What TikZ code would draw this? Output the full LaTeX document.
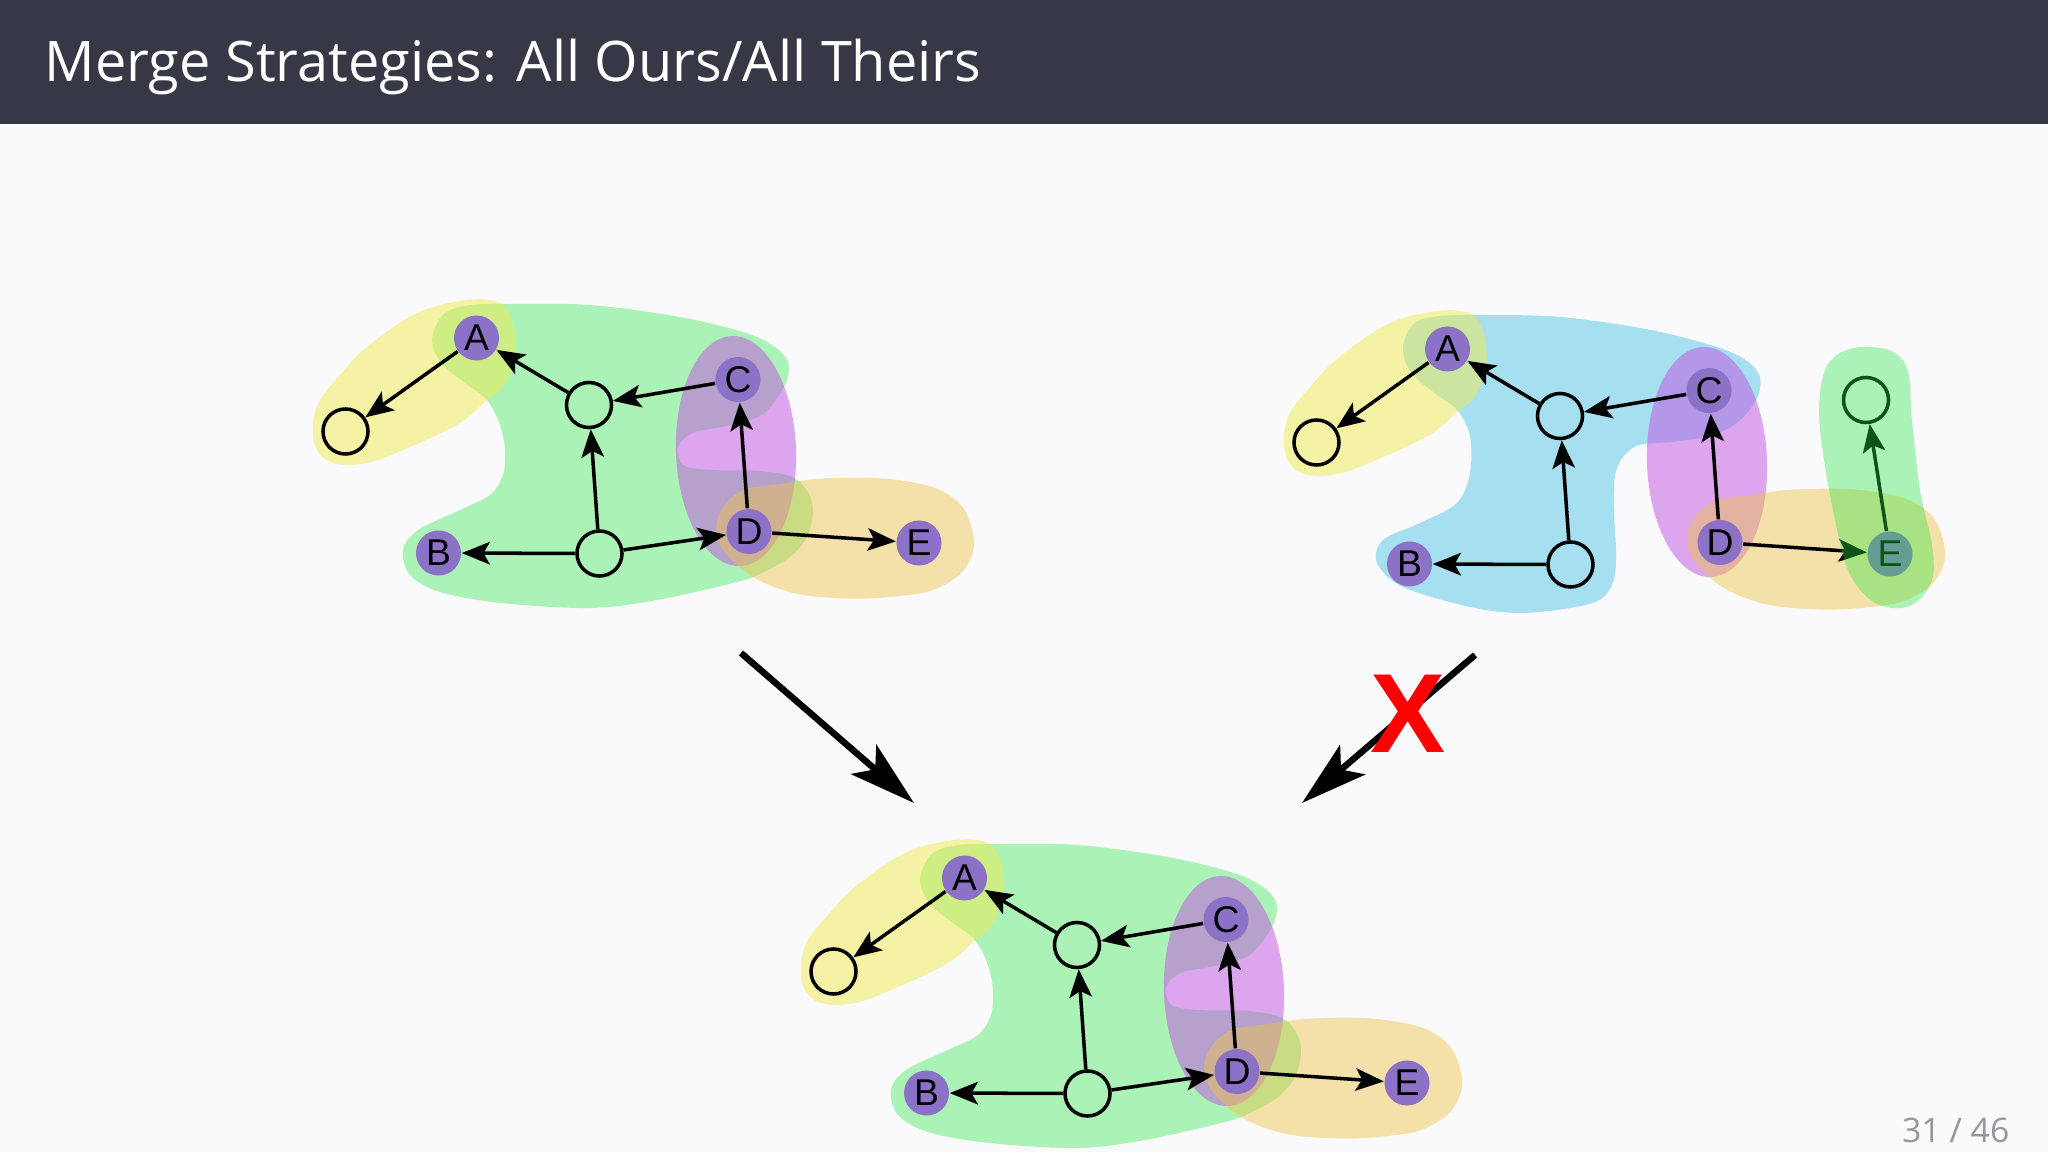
\documentclass[tikz,border=0pt]{standalone}
\usepackage{fontspec}
\setsansfont{Liberation Sans}
\newfontfamily\titlefont{Open Sans}
\usetikzlibrary{arrows.meta}
\definecolor{headerC}{RGB}{54,56,69}
\definecolor{bgC}{RGB}{250,250,252}
\definecolor{yellowC}{RGB}{241,235,81}
\definecolor{greenC}{RGB}{38,230,65}
\definecolor{purpleC}{RGB}{193,81,225}
\definecolor{orangeC}{RGB}{238,195,70}
\definecolor{blueC}{RGB}{81,197,229}
\definecolor{nodeP}{RGB}{139,114,198}
\definecolor{pageC}{RGB}{150,150,155}
\tikzset{
  pnode/.style={circle, fill=nodeP, minimum size=0.45cm, inner sep=0pt, text=black, font=\sffamily\fontsize{10.6}{11}\selectfont},
  enode/.style={circle, draw=black, line width=1.0pt, minimum size=0.45cm, inner sep=0pt},
  edge/.style={line width=1.0pt, -{Stealth[length=8pt,width=6.4pt,inset=1.8pt]}},
  bigarrow/.style={line width=1.85pt, -{Stealth[length=18.9pt,width=11pt,inset=4.3pt]}},
  yblob/.style={fill=yellowC, fill opacity=0.5},
  gblob/.style={fill=greenC, fill opacity=0.37},
  pblob/.style={fill=purpleC, fill opacity=0.5},
  oblob/.style={fill=orangeC, fill opacity=0.45},
  bblob/.style={fill=blueC, fill opacity=0.5},
}
\newcommand\mynodes[1]{%
  \node[pnode] (#1A) at (476.5,338) {A};
  \node[enode] (#1L) at (345.5,431.5) {};
  \node[enode] (#1M) at (589,405) {};
  \node[pnode] (#1C) at (738,379.5) {C};
  \node[pnode] (#1B) at (438.5,553) {B};
  \node[enode] (#1N) at (599.5,553.5) {};
  \node[pnode] (#1D) at (749,531.5) {D};
  \node[pnode] (#1E) at (919,543) {E};
  \draw[edge] (#1A) -- (#1L);
  \draw[edge] (#1M) -- (#1A);
  \draw[edge] (#1C) -- (#1M);
  \draw[edge] (#1N) -- (#1M);
  \draw[edge] (#1N) -- (#1B);
  \draw[edge] (#1D) -- (#1C);
  \draw[edge] (#1D) -- (#1E);
}
\newcommand\yellowpath{plot[smooth cycle, tension=0.6] coordinates {(313,423) (320,400) (340,375) (367,347) (417,313) (467,300) (500,303) (513,323) (515,357) (503,387) (487,400) (460,423) (410,447) (367,463) (333,463) (316,448)}}
\newcommand\orangepath{plot[smooth cycle, tension=0.7] coordinates {(736,494) (716,529) (736,564) (780,589) (836,598) (900,596) (942,586) (969,562) (972,529) (952,497) (905,481) (836,478) (780,484)}}
\newcommand\purplepath{[rotate around={2:(736,451)}] (736,451) ellipse [x radius=0.6cm, y radius=1.15cm]}
\newcommand\greenpath{plot[smooth cycle, tension=0.55] coordinates {(433,333) (445,313) (470,305) (510,304) (590,305) (680,317) (746,333) (775,347) (788,362) (787,380) (777,398) (760,416) (727,426) (695,432) (680,443) (678,455) (685,466) (710,470) (760,471) (792,477) (808,492) (813,512) (807,537) (790,557) (762,573) (737,582) (657,600) (590,608) (501,603) (440,592) (410,575) (403,550) (418,530) (460,510) (490,495) (503,475) (505,450) (500,425) (487,400) (465,383) (445,367) (434,350)}}
\newcommand\bluepath{plot[smooth cycle, tension=0.55] coordinates {(433,330) (445,311) (470,305) (510,304) (590,306) (680,319) (746,336) (776,350) (789,366) (787,385) (776,402) (760,416) (735,426) (700,431) (668,434) (652,446) (644,465) (643,500) (645,540) (643,568) (630,588) (599,597) (549,602) (499,596) (432,576) (406,552) (412,529) (449,512) (486,492) (499,462) (499,425) (487,400) (465,383) (445,367) (434,350)}}
\newcommand\vgreenpath{plot[smooth cycle, tension=0.6] coordinates {(895,336) (922,341) (937,361) (941,409) (949,479) (961,534) (961,569) (944,592) (921,597) (897,587) (877,559) (864,509) (853,449) (848,399) (854,359) (871,341)}}
\begin{document}
\begin{tikzpicture}[x=0.01cm, y=-0.01cm]
\useasboundingbox (0,0) rectangle (2048,1152);
\fill[bgC] (0,0) rectangle (2048,1152);
\fill[headerC] (0,0) rectangle (2048,124);
\node[anchor=base west, text=white, inner sep=0pt, font=\titlefont\fontsize{15.9}{18}\selectfont] (title) at (44,82) {Merge Strategies: All Ours/All Theirs};
\node[anchor=base east, text=pageC, inner sep=0pt, font=\titlefont\fontsize{9.6}{11}\selectfont] (page) at (2010,1142) {31 / 46};
% graph 1
\begin{scope}
  \fill[gblob] \greenpath;
  \fill[pblob] \purplepath;
  \fill[oblob] \orangepath;
  \fill[yblob] \yellowpath;
  \mynodes{g}
\end{scope}
% graph 2
\begin{scope}[shift={(971,11)}]
  \fill[bblob] \bluepath;
  \fill[pblob] \purplepath;
  \fill[oblob] \orangepath;
  \fill[yblob] \yellowpath;
  \node[pnode] (hA) at (476.5,338) {A};
  \node[enode] (hL) at (345.5,431.5) {};
  \node[enode] (hM) at (589,405) {};
  \node[pnode] (hC) at (738,379.5) {C};
  \node[pnode] (hB) at (438.5,553) {B};
  \node[enode] (hN) at (599.5,553.5) {};
  \node[pnode] (hD) at (749,531.5) {D};
  \node[pnode] (hE) at (919,543) {E};
  \node[enode] (hF) at (895,389) {};
  \draw[edge] (hA) -- (hL);
  \draw[edge] (hM) -- (hA);
  \draw[edge] (hC) -- (hM);
  \draw[edge] (hN) -- (hM);
  \draw[edge] (hN) -- (hB);
  \draw[edge] (hD) -- (hC);
  \draw[edge] (hD) -- (hE);
  \draw[edge] (hE) -- (hF);
  \fill[gblob] \vgreenpath;
\end{scope}
% graph 3
\begin{scope}[shift={(488,540)}]
  \fill[gblob] \greenpath;
  \fill[pblob] \purplepath;
  \fill[oblob] \orangepath;
  \fill[yblob] \yellowpath;
  \node[pnode] (kA) at (476.5,338) {A};
  \node[enode] (kL) at (345.5,431.5) {};
  \node[enode] (kM) at (589,405) {};
  \node[pnode] (kC) at (738,379.5) {C};
  \node[pnode] (kB) at (438.5,553) {B};
  \node[enode] (kN) at (599.5,553.5) {};
  \node[pnode] (kD) at (749,531.5) {D};
  \node[pnode] (kE) at (919,543) {E};
  \draw[edge] (kA) -- (kL);
  \draw[edge] (kM) -- (kA);
  \draw[edge] (kC) -- (kM);
  \draw[edge] (kN) -- (kM);
  \draw[edge] (kN) -- (kB);
  \draw[edge] (kD) -- (kC);
  \draw[edge] (kD) -- (kE);
  \draw[edge] (kN) -- (kD);
\end{scope}
% graph 1 extra edge
\draw[edge] (gN) -- (gD);
% merge arrows
\coordinate (la1) at (741,653);
\coordinate (la2) at (914,803);
\coordinate (ra1) at (1475,655);
\coordinate (ra2) at (1302,803);
\draw[bigarrow] (la1) -- (la2);
\draw[bigarrow] (ra1) -- (ra2);
\node[text=red, inner sep=0pt, font=\sffamily\bfseries\fontsize{32}{32}\selectfont] (x) at (1408,714) {X};
\end{tikzpicture}
\end{document}
